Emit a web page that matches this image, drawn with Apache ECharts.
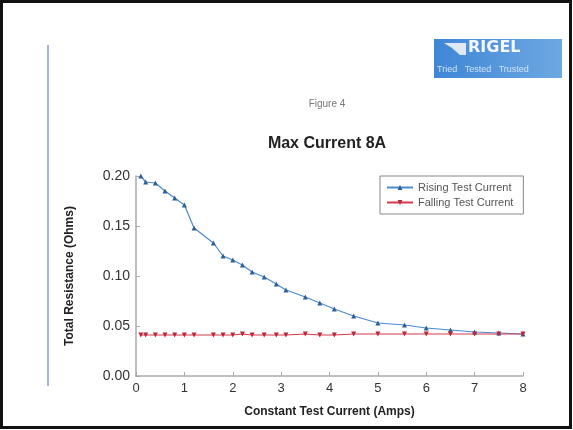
<!DOCTYPE html>
<html>
<head>
<meta charset="utf-8">
<script src="https://cdn.jsdelivr.net/npm/echarts@6/dist/echarts.min.js"></script>
<style>
html,body{margin:0;padding:0;background:#fff;}
#c{width:573px;height:430px;}
</style>
</head>
<body>
<div id="c"></div>
<script>
const currents = [0.1, 0.2, 0.4, 0.6, 0.8, 1.0, 1.2, 1.6, 1.8, 2.0, 2.2, 2.4, 2.65, 2.9, 3.1, 3.5, 3.8, 4.1, 4.5, 5.0, 5.55, 6.0, 6.5, 7.0, 7.5, 8.0];
const rising = [0.200, 0.194, 0.193, 0.185, 0.178, 0.171, 0.148, 0.133, 0.120, 0.116, 0.111, 0.104, 0.099, 0.092, 0.086, 0.079, 0.073, 0.067, 0.060, 0.053, 0.051, 0.048, 0.046, 0.044, 0.043, 0.042];
const falling = [0.041, 0.041, 0.041, 0.041, 0.041, 0.041, 0.041, 0.041, 0.041, 0.041, 0.042, 0.041, 0.041, 0.041, 0.041, 0.042, 0.041, 0.041, 0.042, 0.042, 0.042, 0.042, 0.042, 0.042, 0.042, 0.042];
const xTicks = [0, 1, 2, 3, 4, 5, 6, 7, 8];
const yTicks = [0, 0.05, 0.10, 0.15, 0.20];
const seriesNames = ['Rising Test Current', 'Falling Test Current'];

const chart = echarts.init(document.getElementById('c'));
const font = 'Liberation Sans, Arial, sans-serif';
chart.setOption({
  backgroundColor: '#fff',
  animation: false,
  textStyle: { fontFamily: font },
  title: [
    { text: 'Figure 4', left: 322, top: 94, textAlign: 'center',
      textStyle: { fontSize: 10, fontWeight: 'normal', color: '#777', fontFamily: font } },
    { text: 'Max Current 8A', left: 322, top: 131, textAlign: 'center',
      textStyle: { fontSize: 16, fontWeight: 'bold', color: '#222', fontFamily: font } }
  ],
  legend: {
    data: seriesNames,
    orient: 'vertical',
    left: 380, top: 176,
    borderColor: '#888', borderWidth: 1, borderRadius: 0,
    padding: [6, 10, 6, 6],
    itemGap: 4,
    itemWidth: 26, itemHeight: 6,
    textStyle: { fontSize: 11, color: '#555', fontFamily: font }
  },
  grid: { left: 136, right: 50, top: 176, bottom: 54 },
  xAxis: {
    type: 'value', min: xTicks[0], max: xTicks[xTicks.length - 1], interval: 1,
    name: 'Constant Test Current (Amps)', nameLocation: 'middle', nameGap: 30,
    nameTextStyle: { fontSize: 12, fontWeight: 'bold', color: '#222', fontFamily: font },
    axisLine: { lineStyle: { color: '#aaa', width: 1.5 } },
    axisTick: { inside: true, length: 4, lineStyle: { color: '#aaa' } },
    axisLabel: { fontSize: 13, color: '#333', margin: 6, fontFamily: font },
    splitLine: { show: false }
  },
  yAxis: {
    type: 'value', min: yTicks[0], max: yTicks[yTicks.length - 1], interval: 0.05,
    name: 'Total Resistance (Ohms)', nameLocation: 'middle', nameGap: 60, nameRotate: 90,
    nameTextStyle: { fontSize: 12, fontWeight: 'bold', color: '#222', fontFamily: font },
    axisLine: { show: true, lineStyle: { color: '#aaa', width: 1.5 } },
    axisTick: { show: true, inside: true, length: 4, lineStyle: { color: '#aaa' } },
    axisLabel: { fontSize: 14, color: '#333', margin: 6, fontFamily: font,
      formatter: v => v.toFixed(2) },
    splitLine: { show: false }
  },
  series: [
    { name: seriesNames[0], type: 'line', clip: false,
      data: currents.map((x, i) => [x, rising[i]]),
      symbol: 'triangle', symbolSize: 5,
      lineStyle: { color: '#4a8ad0', width: 1.2 },
      itemStyle: { color: '#2f5f96' } },
    { name: seriesNames[1], type: 'line', clip: false,
      data: currents.map((x, i) => [x, falling[i]]),
      symbol: 'triangle', symbolRotate: 180, symbolSize: 5,
      lineStyle: { color: '#d43a4a', width: 1.2 },
      itemStyle: { color: '#b8283a' } }
  ],
  graphic: [
    { type: 'rect', shape: { x: 1.5, y: 1.5, width: 569, height: 426 },
      style: { fill: 'none', stroke: '#111', lineWidth: 3 }, silent: true },
    { type: 'line', shape: { x1: 48, y1: 45, x2: 48, y2: 386 },
      style: { stroke: '#3a6fc0', lineWidth: 1 } },
    { type: 'rect', shape: { x: 434, y: 39, width: 128, height: 39 },
      style: { fill: new echarts.graphic.LinearGradient(0, 0, 1, 0, [
        { offset: 0, color: '#3f86d6' }, { offset: 1, color: '#6ea8e2' }]) } },
    { type: 'polygon', shape: { points: [[444, 43], [466, 43], [466, 55], [460, 55], [452, 48]] },
      style: { fill: '#dfe9f6' } },
    { type: 'text', left: 468, top: 40,
      style: { text: 'RIGEL', fontSize: 16, fontWeight: 'bold', fill: '#f4f8fd', fontFamily: 'DejaVu Sans, sans-serif' } },
    { type: 'text', left: 437, top: 65,
      style: { text: 'Tried   Tested   Trusted', fontSize: 9, fill: '#cfe2f6', fontFamily: 'Liberation Sans, sans-serif' } }
  ]
});
</script>
</body>
</html>
